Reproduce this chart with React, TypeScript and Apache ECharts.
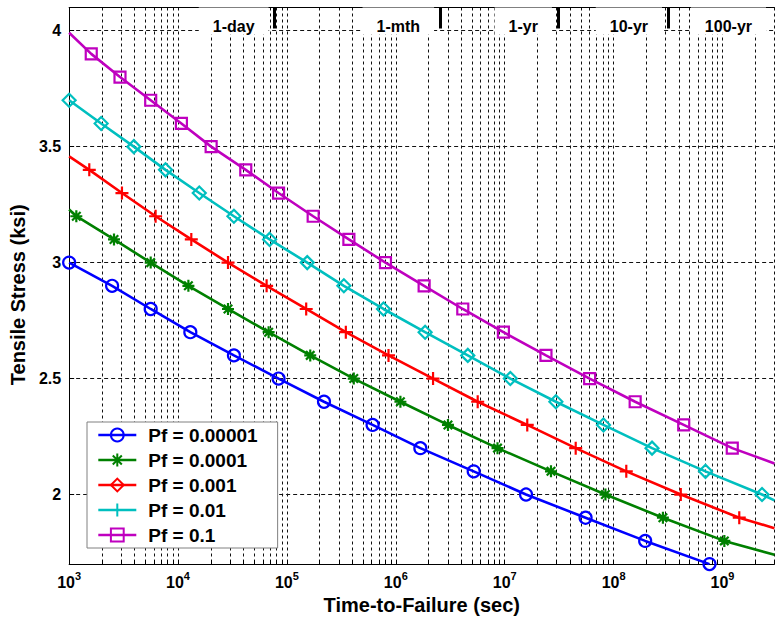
import { useEffect, useRef } from 'react';
import * as echarts from 'echarts';

// ---- axes ----
const xMin = 1e3;
const xMax = 3e9;
const yMin = 1.7;
const yMax = 4.1;
const yTickValues = [2, 2.5, 3, 3.5, 4];
const xDecades = [1e3, 1e4, 1e5, 1e6, 1e7, 1e8, 1e9];
const minorMultipliers = [1, 2, 3, 4, 5, 6, 7, 8, 9];

// ---- time horizons (top) ----
const horizonLabels = ['1-day', '1-mth', '1-yr', '10-yr', '100-yr'];
const horizonLabelTimes = [7.7e4, 2.55e6, 3.08e7, 3.16e8, 2.85e9];
const horizonTickTimes = [7.7e4, 2.55e6, 3.08e7, 3.16e8];

// ---- series ----
const seriesNames = ['Pf = 0.00001', 'Pf = 0.0001', 'Pf = 0.001', 'Pf = 0.01', 'Pf = 0.1'];
const seriesColors = ['#0000FF', '#008000', '#FF0000', '#00BFBF', '#BF00BF'];

const pf1Times = [1e3, 2480, 5610, 12970, 32600, 83800, 219000, 612000, 1.68e6, 5.19e6, 1.57e7, 5.53e7, 1.95e8, 7.6e8];
const pf1Stress = [3.0, 2.9, 2.8, 2.7, 2.6, 2.5, 2.4, 2.3, 2.2, 2.1, 2.0, 1.9, 1.8, 1.7];
const pf1LineStart: number | null = null;
const pf1LineEnd: number | null = null;

const pf2Times = [1164, 2582, 5610, 12450, 28770, 67920, 163700, 411100, 1.102e6, 3.013e6, 8.59e6, 2.661e7, 8.414e7, 2.838e8, 1.04e9];
const pf2Stress = [3.2, 3.1, 3.0, 2.9, 2.8, 2.7, 2.6, 2.5, 2.4, 2.3, 2.2, 2.1, 2.0, 1.9, 1.8];
const pf2LineStart: number | null = 3.229;
const pf2LineEnd: number | null = 1.74;

const pf3Times = [1531, 3055, 6223, 13240, 28770, 65080, 150300, 347500, 857000, 2.198e6, 5.649e6, 1.611e7, 4.487e7, 1.308e8, 4.14e8, 1.426e9];
const pf3Stress = [3.4, 3.3, 3.2, 3.1, 3.0, 2.9, 2.8, 2.7, 2.6, 2.5, 2.4, 2.3, 2.2, 2.1, 2.0, 1.9];
const pf3LineStart: number | null = 3.458;
const pf3LineEnd: number | null = 1.855;

const pf4Times = [1e3, 1968, 3926, 7674, 15670, 32600, 69340, 153700, 333400, 770900, 1.858e6, 4.581e6, 1.127e7, 2.951e7, 8.072e7, 2.254e8, 6.982e8, 2.307e9];
const pf4Stress = [3.7, 3.6, 3.5, 3.4, 3.3, 3.2, 3.1, 3.0, 2.9, 2.8, 2.7, 2.6, 2.5, 2.4, 2.3, 2.2, 2.1, 2.0];
const pf4LineStart: number | null = null;
const pf4LineEnd: number | null = 1.975;

const pf5Times = [1596, 2931, 5610, 10740, 20140, 41880, 83800, 174200, 370700, 803500, 1.82e6, 4.121e6, 9.727e6, 2.393e7, 6.026e7, 1.578e8, 4.406e8, 1.23e9];
const pf5Stress = [3.9, 3.8, 3.7, 3.6, 3.5, 3.4, 3.3, 3.2, 3.1, 3.0, 2.9, 2.8, 2.7, 2.6, 2.5, 2.4, 2.3, 2.2];
const pf5LineStart: number | null = 3.991;
const pf5LineEnd: number | null = 2.134;

const PLUS = 'path://M6,0L6,12M0,6L12,6';
const STAR = 'path://M6,0L6,12M0,6L12,6M1.76,1.76L10.24,10.24M1.76,10.24L10.24,1.76';

// symbol drawn on the curves, and symbol shown in the legend (they differ in the original)
const plotSymbols = ['circle', STAR, PLUS, 'diamond', 'rect'];
const legendSymbols = ['circle', STAR, 'diamond', PLUS, 'rect'];
const symbolSizes = [12, 12, 13, 13, 11];

const FONT = "'Liberation Sans', Arial, Helvetica, sans-serif";

function buildData(times: number[], stress: number[], start: number | null, end: number | null, sym: string) {
  const d: any[] = [];
  if (start !== null) d.push({ value: [xMin, start], symbol: 'none' });
  times.forEach((t, i) => d.push({ value: [t, stress[i]], symbol: sym }));
  if (end !== null) d.push({ value: [xMax, end], symbol: 'none' });
  return d;
}

export default function App() {
  const ref = useRef<HTMLDivElement>(null);

  useEffect(() => {
    if (!ref.current) return;
    const chart = echarts.init(ref.current, undefined, { renderer: 'svg' });

    const gridValues: number[] = [];
    xDecades.forEach((d) => minorMultipliers.forEach((m) => {
      const v = d * m;
      if (v <= xMax) gridValues.push(v);
    }));

    const all = [
      [pf1Times, pf1Stress, pf1LineStart, pf1LineEnd],
      [pf2Times, pf2Stress, pf2LineStart, pf2LineEnd],
      [pf3Times, pf3Stress, pf3LineStart, pf3LineEnd],
      [pf4Times, pf4Stress, pf4LineStart, pf4LineEnd],
      [pf5Times, pf5Stress, pf5LineStart, pf5LineEnd],
    ] as any[];

    const series = all.map((s, i) => ({
      name: seriesNames[i],
      type: 'line',
      xAxisIndex: 0,
      yAxisIndex: 0,
      data: buildData(s[0], s[1], s[2], s[3], plotSymbols[i]),
      symbol: legendSymbols[i],
      symbolSize: symbolSizes[i],
      showAllSymbol: true,
      lineStyle: { color: seriesColors[i], width: 2.6 },
      itemStyle: { color: 'rgba(0,0,0,0)', borderColor: seriesColors[i], borderWidth: 2.2 },
      emphasis: { disabled: true },
      z: 3,
    }));

    const option: any = {
      animation: false,
      backgroundColor: '#ffffff',
      textStyle: { fontFamily: FONT },
      grid: { left: 66, right: -3, top: 7.5, bottom: 53, containLabel: false },
      legend: {
        show: true,
        orient: 'vertical',
        left: 87,
        top: 422,
        data: seriesNames,
        selectedMode: false,
        backgroundColor: '#ffffff',
        borderColor: '#808080',
        borderWidth: 1,
        padding: [3, 20, 3, 10],
        itemWidth: 38,
        itemHeight: 16,
        itemGap: 5,
        lineStyle: { width: 2.6 },
        textStyle: { fontFamily: FONT, fontSize: 19, fontWeight: 'bold', color: '#000', lineHeight: 20, padding: [0, 0, 0, 7] },
        z: 10,
      },
      xAxis: [
        {
          type: 'log',
          logBase: 10,
          min: xMin,
          max: xMax,
          position: 'bottom',
          name: 'Time-to-Failure (sec)',
          nameLocation: 'middle',
          nameGap: 30,
          nameTextStyle: { fontFamily: FONT, fontSize: 20, fontWeight: 'bold', color: '#000' },
          axisLine: { show: true, lineStyle: { color: '#000', width: 1 } },
          axisTick: { show: true, inside: true, length: 4, customValues: gridValues, lineStyle: { color: '#000', width: 1 } },
          axisLabel: {
            customValues: xDecades,
            margin: 6,
            formatter: (v: number) => `{b|10}{s|${Math.round(Math.log10(v))}}`,
            rich: {
              b: { fontFamily: FONT, fontSize: 16, fontWeight: 'bold', color: '#000', lineHeight: 24 },
              s: { fontFamily: FONT, fontSize: 11, fontWeight: 'bold', color: '#000', lineHeight: 10, verticalAlign: 'top' },
            },
          },
          splitLine: { show: true, lineStyle: { color: '#111', width: 1, type: [3, 3] } },
          minorTick: { show: false },
          z: 0,
        },
        {
          type: 'log',
          logBase: 10,
          min: xMin,
          max: xMax,
          position: 'top',
          axisLine: { show: true, lineStyle: { color: '#000', width: 1 } },
          axisTick: { show: true, inside: true, length: 21, customValues: horizonTickTimes, lineStyle: { color: '#000', width: 3 } },
          axisLabel: {
            show: true,
            inside: true,
            margin: 0,
            align: 'right',
            verticalAlign: 'top',
            customValues: horizonLabelTimes,
            formatter: (v: number) => {
              let idx = 0;
              horizonLabelTimes.forEach((t, i) => {
                if (Math.abs(Math.log10(t / v)) < 0.01) idx = i;
              });
              return `{t|${horizonLabels[idx]}}{g| }`;
            },
            rich: {
              t: { fontFamily: FONT, fontSize: 16, fontWeight: 'bold', color: '#000', backgroundColor: '#ffffff', padding: [11, 14, 0, 14], verticalAlign: 'top' },
              g: { width: 6, fontSize: 10, verticalAlign: 'top' },
            },
          },
          splitLine: { show: false },
          z: 1,
        },
      ],
      yAxis: [
        {
          type: 'value',
          min: yMin,
          max: yMax,
          position: 'left',
          name: 'Tensile Stress (ksi)',
          nameLocation: 'middle',
          nameGap: 37,
          nameRotate: 90,
          nameTextStyle: { fontFamily: FONT, fontSize: 20, fontWeight: 'bold', color: '#000', padding: [0, 18, 0, 0] },
          axisLine: { show: true, lineStyle: { color: '#000', width: 1 } },
          axisTick: { show: true, inside: true, length: 5, customValues: yTickValues, lineStyle: { color: '#000' } },
          axisLabel: {
            customValues: yTickValues,
            margin: 8,
            formatter: (v: number) => String(v),
            fontFamily: FONT,
            fontSize: 16,
            fontWeight: 'bold',
            color: '#000',
          },
          splitLine: { show: true, lineStyle: { color: '#111', width: 1, type: [4, 3] } },
          z: 0,
        },
      ],
      series,
    };

    chart.setOption(option);
    return () => chart.dispose();
  }, []);

  return (
    <div
      ref={ref}
      style={{ position: 'fixed', left: 0, top: 0, width: 775, height: 620, background: '#fff' }}
    />
  );
}
